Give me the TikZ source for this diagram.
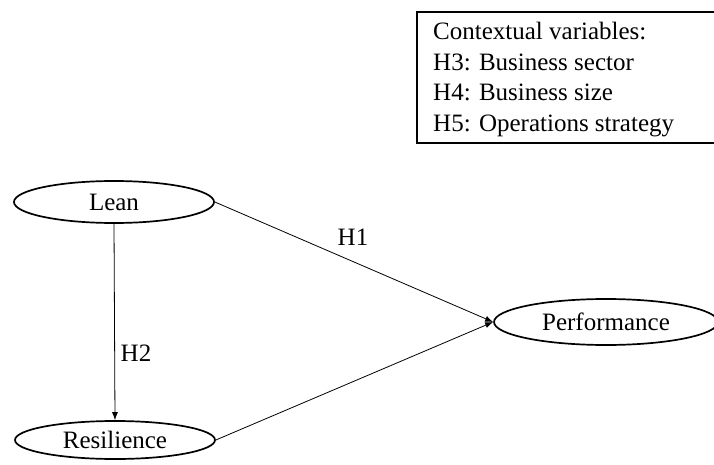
\documentclass[tikz,border=0pt]{standalone}
\usepackage{fontspec}
\setmainfont{Liberation Serif}
\usetikzlibrary{shapes.geometric,arrows.meta}
\begin{document}
\begin{tikzpicture}[x=1pt,y=-1pt,
  txt/.style={font=\fontsize{25}{29}\selectfont},
  legend/.style={txt,anchor=base west,inner sep=0pt},
  construct/.style={ellipse,draw,line width=1.7pt,inner sep=0pt,txt},
  link/.style={line width=0.8pt,-{Latex[length=8pt,width=6pt]}},
  hyp/.style={txt,inner sep=0pt}]
\useasboundingbox (0,0) rectangle (714,465);
\clip (0,0) rectangle (714,465);

% legend box of contextual variables
\draw[line width=1.6pt] (720,12) -- (417,12) -- (417,143) -- (720,143);
\node[legend] (l1) at (433,40) {Contextual variables:};
\node[legend] (l2) at (433,70.5) {H3: Business sector};
\node[legend] (l3) at (433,101) {H4: Business size};
\node[legend] (l4) at (433,131.5) {H5: Operations strategy};

% latent constructs
\node[construct,minimum width=200pt,minimum height=42pt] (lean) at (114,202) {Lean};
\node[construct,minimum width=200pt,minimum height=38pt] (res) at (115,440) {Resilience};
\node[construct,minimum width=224pt,minimum height=46pt] (perf) at (606,322) {Performance};

% hypothesised paths
\draw[link] (lean.east) -- (perf.west);
\draw[link] (res.east) -- (perf.west);
\draw[link] (lean.south) -- (res.north);

\node[hyp] (h1) at (353,237) {H1};
\node[hyp] (h2) at (136,353) {H2};
\end{tikzpicture}
\end{document}
